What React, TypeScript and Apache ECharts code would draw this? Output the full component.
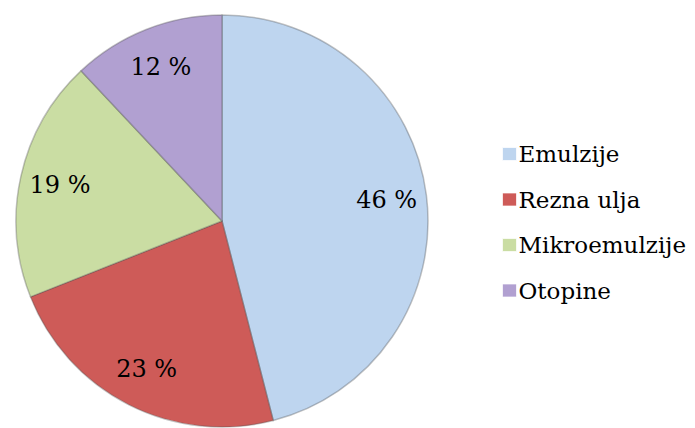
import React, { useEffect, useRef } from "react";
import * as echarts from "echarts";

const categories = ["Emulzije", "Rezna ulja", "Mikroemulzije", "Otopine"];
const values = [46, 23, 19, 12];
const colors = ["#BED5EF", "#CE5B58", "#CADDA3", "#B1A0D1"];

const FONT = "DejaVu Serif";

export default function App() {
  const ref = useRef<HTMLDivElement>(null);
  useEffect(() => {
    const chart = echarts.init(ref.current!, null, { renderer: "svg" });
    const data = categories.map((name, i) => ({
      name,
      value: values[i],
      itemStyle: { color: colors[i] },
    }));
    chart.setOption({
      animation: false,
      textStyle: { fontFamily: FONT },
      legend: {
        orient: "vertical",
        left: 497,
        top: 137,
        itemWidth: 14,
        itemHeight: 13,
        itemGap: 21.5,
        icon: "rect",
        data: categories,
        itemStyle: { borderColor: "rgba(255,255,255,0.7)", borderWidth: 1 },
        textStyle: {
          fontFamily: FONT,
          fontSize: 23,
          color: "#000",
          padding: [0, 0, 0, -3],
          lineHeight: 24,
        },
      },
      series: [
        {
          type: "pie",
          center: [222, 221],
          radius: [0, 206],
          startAngle: 90,
          clockwise: true,
          silent: true,
          label: { show: false },
          labelLine: { show: false },
          itemStyle: {
            borderColor: "rgba(80,80,80,0.35)",
            borderWidth: 1.5,
          },
          data,
        },
        {
          type: "pie",
          center: [222, 221],
          radius: [120, 206],
          startAngle: 90,
          clockwise: true,
          silent: true,
          legendHoverLink: false,
          itemStyle: { color: "rgba(0,0,0,0)", borderWidth: 0 },
          label: {
            show: true,
            position: "inside",
            formatter: "{c} %",
            fontFamily: FONT,
            fontSize: 24,
            color: "#000",
          },
          labelLine: { show: false },
          data: categories.map((name, i) => ({ name: name + "_l", value: values[i] })),
        },
      ],
    });
    return () => chart.dispose();
  }, []);
  return <div ref={ref} style={{ width: 695, height: 428, position: "absolute", left: 0, top: 0 }} />;
}
